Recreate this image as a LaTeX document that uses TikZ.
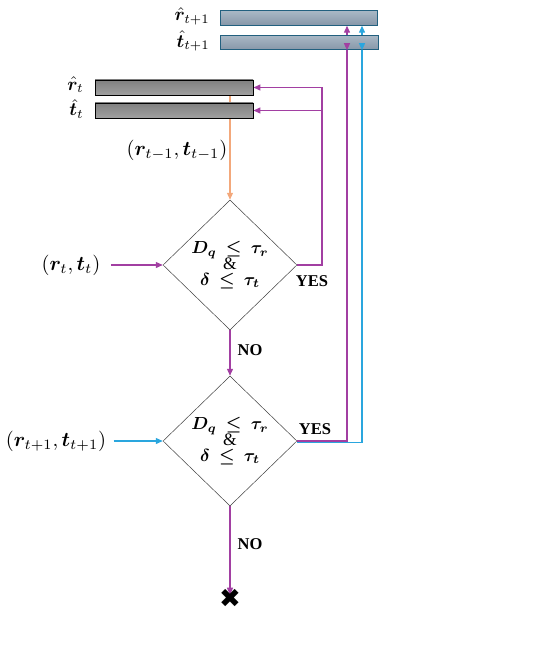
\documentclass[tikz,border=0pt]{standalone}
\usepackage{amsmath}
\usepackage{bm}
\usepackage{fontspec}
\setmainfont{Liberation Serif}
\newfontfamily\symfont{DejaVu Sans}
\usetikzlibrary{arrows.meta,shapes.geometric,backgrounds}
\definecolor{pur}{HTML}{A23FA2}
\definecolor{cya}{HTML}{2AA6DE}
\definecolor{ora}{HTML}{F0925A}
\definecolor{bartop}{HTML}{A9B8C6}
\definecolor{barbot}{HTML}{8797A8}
\definecolor{barbord}{HTML}{22607F}
\definecolor{graytop}{HTML}{808080}
\definecolor{graybot}{HTML}{A0A0A0}
\tikzset{
  graybar/.style={draw=black, line width=0.9pt, top color=graytop, bottom color=graybot, minimum height=15pt, inner sep=0pt},
  bluebar/.style={draw=barbord, line width=0.9pt, top color=bartop, bottom color=barbot, minimum height=14.5pt, inner sep=0pt},
  dec/.style={diamond, draw=black!75, line width=0.5pt, minimum width=134pt, minimum height=130pt, inner sep=0pt},
  dectext/.style={align=center, inner sep=0pt, scale=1.75, transform shape},
  lab/.style={inner sep=0pt, scale=1.85, transform shape},
  inlab/.style={inner sep=0pt, scale=2.05, transform shape},
  word/.style={font=\fontsize{16.5}{18}\selectfont\bfseries, inner sep=0pt},
  tip/.style={-{Triangle[length=7pt,width=6pt]}},
  conn/.style={line width=1.3pt, tip},
}
\begin{document}
\begin{tikzpicture}[x=1pt,y=-1pt]
\useasboundingbox (0,0) rectangle (550,647);
% bars
\node[bluebar, minimum width=157pt] (rt1) at (298.5,18) {};
\node[bluebar, minimum width=158pt] (tt1) at (299,42.5) {};
\node[graybar, minimum width=158pt] (rt) at (174,87.5) {};
\node[graybar, minimum width=158pt] (tt) at (174,110.5) {};
% bar labels
\node[lab, anchor=east] (lrt1) at (210,16) {$\hat{\bm r}_{t+1}$};
\node[lab, anchor=east] (ltt1) at (210,41) {$\hat{\bm t}_{t+1}$};
\node[lab, anchor=east] (lrt) at (84,85) {$\hat{\bm r}_{t}$};
\node[lab, anchor=east] (ltt) at (84,109) {$\hat{\bm t}_{t}$};
% decisions
\node[dec] (d1) at (230,265) {};
\node[dec] (d2) at (230,441) {};
\node[dectext] (q1) at (d1.center) {$\bm{D_q\ \le\ \tau_r}$\\[-3pt] \&\\[-3pt] $\bm{\delta\ \le\ \tau_t}$};
\node[dectext] (q2) at (d2.center) {$\bm{D_q\ \le\ \tau_r}$\\[-3pt] \&\\[-3pt] $\bm{\delta\ \le\ \tau_t}$};
% inputs
\node[inlab] (prev) at (177,150) {$(\bm r_{t-1},\bm t_{t-1})$};
\node[inlab] (in1) at (71,265) {$(\bm r_{t},\bm t_{t})$};
\node[inlab] (in2) at (56,441) {$(\bm r_{t+1},\bm t_{t+1})$};
% words
\node[word] (yes1) at (312,281) {YES};
\node[word] (yes2) at (315,429) {YES};
\node[word] (no1) at (250,350) {NO};
\node[word] (no2) at (250,544) {NO};
\node[font=\symfont\fontsize{26}{26}\selectfont, inner sep=0pt] (stop) at (230,598) {✖};
% helper coordinates
\coordinate (c1) at (322,87.5);
\coordinate (cp) at (347,0);
\coordinate (cc) at (362,0);
\begin{scope}[on background layer]
  \draw[ora, line width=1.2pt, -{Triangle[length=7pt,width=6pt]}, draw=ora!80] (d1.north |- rt.south) -- (d1.north);
  \draw[pur, conn] (in1.east |- d1.west) ++(10,0) -- (d1.west);
  \draw[pur, conn] (d1.east) -| (c1) -- (rt.east);
  \draw[pur, conn] (c1 |- tt.east) -- (tt.east);
  \draw[pur, conn] (d1.south) -- (d2.north);
  \draw[cya, conn] (in2.east |- d2.west) ++(7,0) -- (d2.west);
  \draw[cya, conn] ([yshift=-1.5pt]d2.east) -| (cc |- rt1.south);
  \draw[pur, conn] (d2.east) -| (cp |- rt1.south);
  \draw[pur, conn] (d2.south) -- ([yshift=-6pt]stop.north);
\end{scope}
\draw[pur, conn] ([yshift=6pt]cp |- tt1.south) -- (cp |- tt1.south);
\draw[cya, conn] ([yshift=6pt]cc |- tt1.south) -- (cc |- tt1.south);
\end{tikzpicture}
\end{document}
